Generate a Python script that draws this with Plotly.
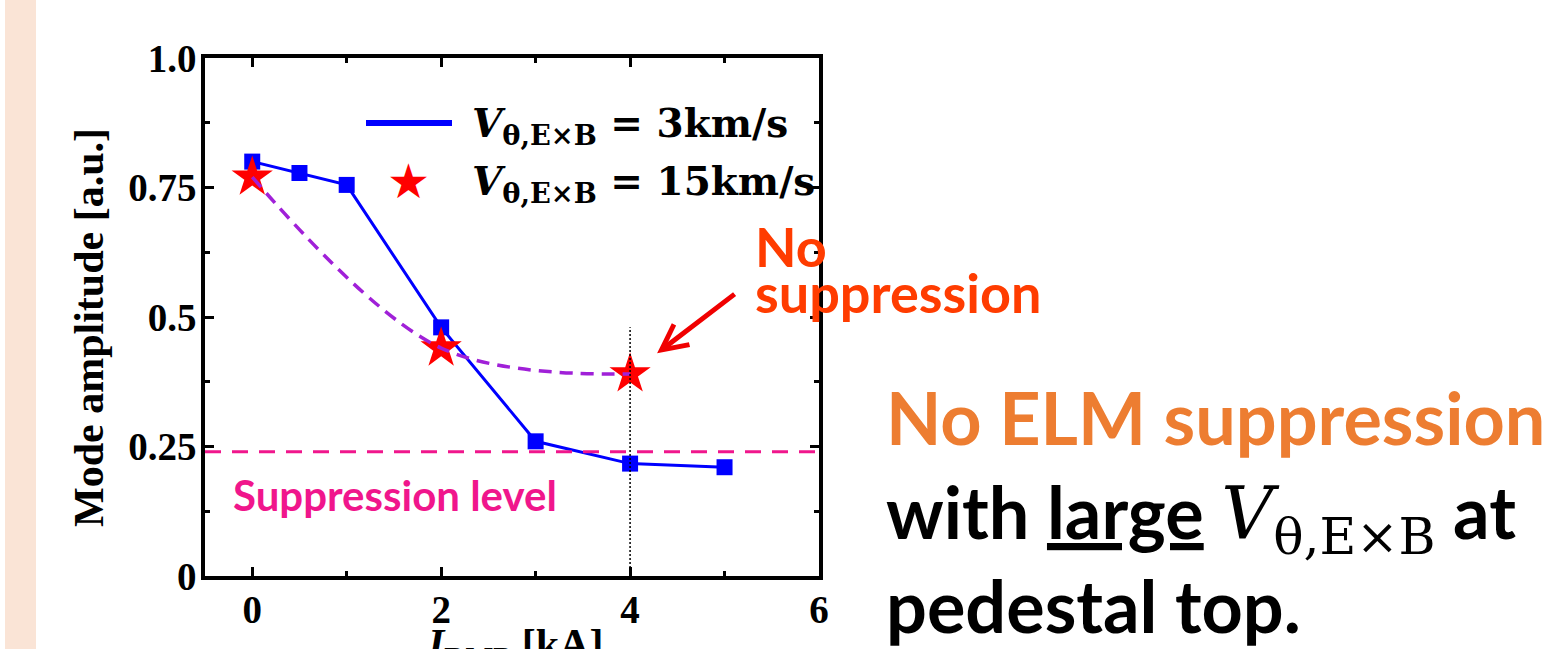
import plotly.graph_objects as go

# RMP coil current [kA] and normalised mode amplitude for two rotation cases
i_rmp_slow = [0, 0.5, 1, 2, 3, 4, 5]
amp_slow = [0.80, 0.778, 0.755, 0.48, 0.26, 0.217, 0.21]
i_rmp_fast = [0, 2, 4]
amp_fast = [0.77, 0.44, 0.39]

suppression_level = 0.24
marked_current = 4
marked_top = 0.48

x_ticks = [0, 2, 4, 6]
x_minor = [1, 3, 5]
y_ticks = [0, 0.25, 0.5, 0.75, 1.0]
y_ticklabels = ["0", "0.25", "0.5", "0.75", "1.0"]
y_minor = [0.125, 0.375, 0.625, 0.875]

W, H = 1560, 649
L, R, T, B = 205, 819, 58, 576


def px(xp):
    return (xp - L) / (R - L)


def py(yp):
    return (B - yp) / (B - T)


SERIF = "Liberation Serif"
SANS = "Lato"

fig = go.Figure()

fig.add_trace(go.Scatter(
    x=i_rmp_slow, y=amp_slow, mode="lines+markers",
    line=dict(color="#0000FF", width=3),
    marker=dict(symbol="square", size=16, color="#0000FF"),
    showlegend=False,
))
fig.add_trace(go.Scatter(
    x=i_rmp_fast, y=amp_fast, mode="markers",
    marker=dict(symbol="star", size=31, color="#FF0000", line=dict(width=0)),
    showlegend=False,
))
fig.add_trace(go.Scatter(
    x=i_rmp_fast, y=amp_fast, mode="lines",
    line=dict(shape="spline", smoothing=1.0, color="#A020D8", width=3.5, dash="13px,8px"),
    showlegend=False,
))

shapes = [
    # side band of the slide
    dict(type="rect", xref="paper", yref="paper", x0=px(5), x1=px(36), y0=py(649), y1=py(0),
         fillcolor="#FAE4D6", line=dict(width=0), layer="below"),
    # suppression threshold
    dict(type="line", xref="x domain", yref="y", x0=0, x1=1, y0=suppression_level, y1=suppression_level,
         line=dict(color="#F0168C", width=3, dash="16px,11px")),
    # guide at the marked current
    dict(type="line", xref="x", yref="y", x0=marked_current, x1=marked_current, y0=0, y1=marked_top,
         line=dict(color="black", width=1.5, dash="2px,2px")),
    # legend sample line
    dict(type="line", xref="paper", yref="paper", x0=px(366), x1=px(452), y0=py(123), y1=py(123),
         line=dict(color="#0000FF", width=6)),
]

leg_font = dict(family="DejaVu Serif", size=39, color="black", weight="bold")
annotations = [
    dict(xref="paper", yref="paper", x=px(470), y=py(126), xanchor="left", yanchor="middle",
         text="<i>V</i><sub>θ,E×B</sub> = 3km/s", showarrow=False, font=leg_font),
    dict(xref="paper", yref="paper", x=px(470), y=py(183), xanchor="left", yanchor="middle",
         text="<i>V</i><sub>θ,E×B</sub> = 15km/s", showarrow=False, font=leg_font),
    dict(xref="paper", yref="paper", x=px(408), y=py(181), xanchor="center", yanchor="middle",
         text="★", showarrow=False, font=dict(family="DejaVu Sans", size=48, color="#FF0000")),
    # axis titles
    dict(xref="paper", yref="paper", x=px(89), y=py(328), xanchor="center", yanchor="middle",
         text="Mode amplitude [a.u.]", textangle=-90, showarrow=False,
         font=dict(family=SERIF, size=42, color="black", weight="bold")),
    dict(xref="paper", yref="paper", x=px(515), y=py(619), xanchor="center", yanchor="top",
         text="<i>I</i><sub>RMP</sub> [kA]", showarrow=False,
         font=dict(family=SERIF, size=42, color="black", weight="bold")),
    # in-plot labels
    dict(xref="paper", yref="paper", x=px(231), y=py(495), xanchor="left", yanchor="middle",
         text="Suppression level", showarrow=False,
         font=dict(family=SANS, size=42, color="#F0168C", weight="bold")),
    dict(xref="x", yref="y", x=marked_current, y=amp_fast[-1], ax=106, ay=-81,
         axref="pixel", ayref="pixel", text="", showarrow=True, arrowhead=5,
         arrowsize=1, arrowwidth=5, arrowcolor="#F00000", standoff=34),
    dict(xref="paper", yref="paper", x=px(753), y=py(212), xanchor="left", yanchor="top",
         text="No", showarrow=False,
         font=dict(family=SANS, size=54, color="#FF3C00", weight="bold")),
    dict(xref="paper", yref="paper", x=px(753), y=py(258), xanchor="left", yanchor="top",
         text="suppression", showarrow=False,
         font=dict(family=SANS, size=54, color="#FF3C00", weight="bold")),
    # message on the right
    dict(xref="paper", yref="paper", x=px(884), y=py(417), xanchor="left", yanchor="middle",
         text="No ELM suppression", showarrow=False,
         font=dict(family=SANS, size=72, color="#ED7D31", weight="bold")),
    dict(xref="paper", yref="paper", x=px(884), y=py(517), xanchor="left", yanchor="middle",
         text=("with <u>large</u> <span style=\"font-family:'DejaVu Serif';font-weight:normal\"><i>V</i>"
               "<sub>θ,E×B</sub></span> at"),
         showarrow=False, font=dict(family=SANS, size=72, color="black", weight="bold")),
    dict(xref="paper", yref="paper", x=px(884), y=py(605), xanchor="left", yanchor="middle",
         text="pedestal top.", showarrow=False,
         font=dict(family=SANS, size=72, color="black", weight="bold")),
]

axis_common = dict(
    showline=True, linecolor="black", linewidth=3.5, mirror="ticks",
    ticks="inside", ticklen=9, tickwidth=3, tickcolor="black",
    showgrid=False, zeroline=False,
    tickfont=dict(family=SERIF, size=39, color="black", weight="bold"),
)

fig.update_layout(
    width=W, height=H,
    margin=dict(l=L, r=W - R, t=T, b=H - B),
    paper_bgcolor="white", plot_bgcolor="white",
    showlegend=False,
    shapes=shapes, annotations=annotations,
    xaxis=dict(range=[-0.5, 6.0], tickvals=x_ticks,
               minor=dict(tickvals=x_minor, ticks="inside", ticklen=5, tickwidth=3, tickcolor="black"),
               ticklabelstandoff=-4, **axis_common),
    yaxis=dict(range=[0, 1.0], tickvals=y_ticks, ticktext=y_ticklabels,
               minor=dict(tickvals=y_minor, ticks="inside", ticklen=5, tickwidth=3, tickcolor="black"),
               ticklabelstandoff=-3, **axis_common),
)

fig.write_html("out.html")
